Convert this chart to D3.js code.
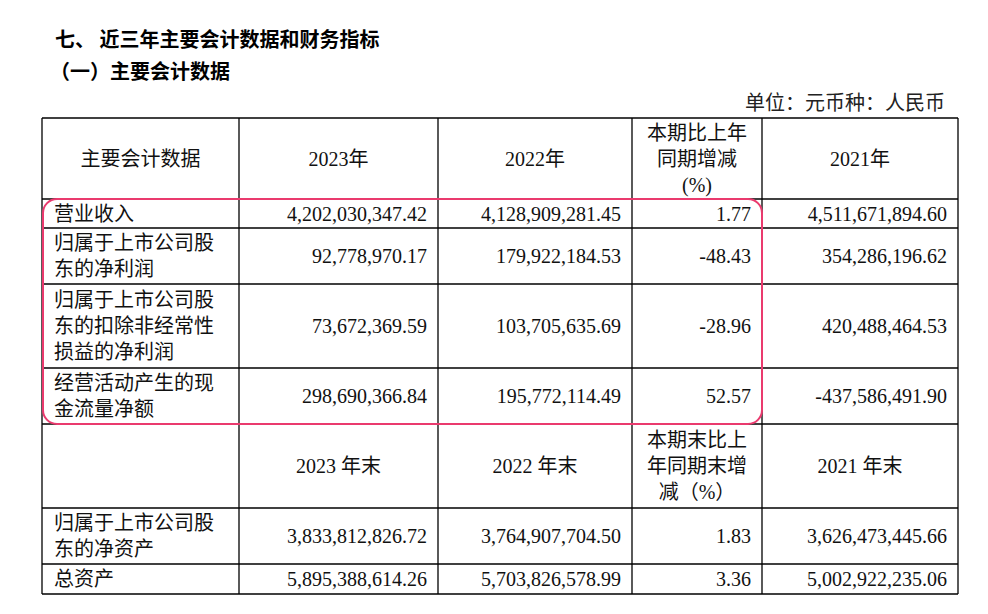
<!DOCTYPE html>
<html><head><meta charset="utf-8">
<script src="https://cdn.jsdelivr.net/npm/d3@7"></script>
<style>body{margin:0;background:#fff}</style></head>
<body><svg id="c" width="988" height="614"></svg>
<script>
const title1 = "七、 近三年主要会计数据和财务指标";
const title2 = "（一）主要会计数据";
const unitNote = "单位：元币种：人民币";
const header1 = [["主要会计数据"],["2023年"],["2022年"],["本期比上年","同期增减","(%)"],["2021年"]];
const rowLabels1 = [["营业收入"],["归属于上市公司股","东的净利润"],["归属于上市公司股","东的扣除非经常性","损益的净利润"],["经营活动产生的现","金流量净额"]];
const v2023 = ["4,202,030,347.42","92,778,970.17","73,672,369.59","298,690,366.84"];
const v2022 = ["4,128,909,281.45","179,922,184.53","103,705,635.69","195,772,114.49"];
const vChg = ["1.77","-48.43","-28.96","52.57"];
const v2021 = ["4,511,671,894.60","354,286,196.62","420,488,464.53","-437,586,491.90"];
const header2 = [[""],["2023 年末"],["2022 年末"],["本期末比上","年同期末增","减（%）"],["2021 年末"]];
const rowLabels2 = [["归属于上市公司股","东的净资产"],["总资产"]];
const e2023 = ["3,833,812,826.72","5,895,388,614.26"];
const e2022 = ["3,764,907,704.50","5,703,826,578.99"];
const eChg = ["1.83","3.36"];
const e2021 = ["3,626,473,445.66","5,002,922,235.06"];

const svg = d3.select("#c");
const colX = [42,239,438,632,762,958];
const rowY = [118,199,228,284,368,424,508,564,594];
const FF = "'Liberation Serif','Noto Sans CJK SC',serif";
const fs = 20, lh = 26;

svg.append("text").attr("x",55).attr("y",47).text(title1)
  .attr("font-family","'Noto Sans CJK SC'").attr("font-weight","bold").attr("font-size",20);
svg.append("text").attr("x",50).attr("y",79).text(title2)
  .attr("font-family","'Noto Sans CJK SC'").attr("font-weight","bold").attr("font-size",20);
svg.append("text").attr("x",945).attr("y",110).attr("text-anchor","end").text(unitNote)
  .attr("font-family",FF).attr("font-size",fs).attr("fill","#222");

const g = svg.append("g").attr("stroke","#000").attr("stroke-width",1.3);
rowY.forEach(y=>g.append("line").attr("x1",colX[0]).attr("x2",colX[5]).attr("y1",y).attr("y2",y));
colX.forEach(x=>g.append("line").attr("x1",x).attr("x2",x).attr("y1",rowY[0]).attr("y2",rowY[8]));

function cell(lines, ci, ri, align){
  const y0=rowY[ri], y1=rowY[ri+1], cy=(y0+y1)/2;
  const n=lines.length;
  let x, anchor;
  if(align==="left"){x=colX[ci]+12;anchor="start";}
  else if(align==="right"){x=colX[ci+1]-11;anchor="end";}
  else {x=(colX[ci]+colX[ci+1])/2;anchor="middle";}
  lines.forEach((t,i)=>{
    svg.append("text").attr("x",x).attr("y",cy+(i-(n-1)/2)*lh).attr("dy","0.36em")
      .attr("text-anchor",anchor).attr("font-family",FF).attr("font-size",fs).attr("fill","#111").text(t);
  });
}
header1.forEach((h,i)=>cell(h,i,0,"middle"));
rowLabels1.forEach((l,r)=>{
  cell(l,0,r+1,"left");
  cell([v2023[r]],1,r+1,"right");cell([v2022[r]],2,r+1,"right");
  cell([vChg[r]],3,r+1,"right");cell([v2021[r]],4,r+1,"right");
});
header2.forEach((h,i)=>cell(h,i,5,"middle"));
rowLabels2.forEach((l,r)=>{
  cell(l,0,r+6,"left");
  cell([e2023[r]],1,r+6,"right");cell([e2022[r]],2,r+6,"right");
  cell([eChg[r]],3,r+6,"right");cell([e2021[r]],4,r+6,"right");
});
svg.append("rect").attr("x",43).attr("y",rowY[1]).attr("width",colX[4]-43).attr("height",rowY[5]-rowY[1])
  .attr("rx",14).attr("fill","none").attr("stroke","#ea3a6e").attr("stroke-width",2);
</script></body></html>
